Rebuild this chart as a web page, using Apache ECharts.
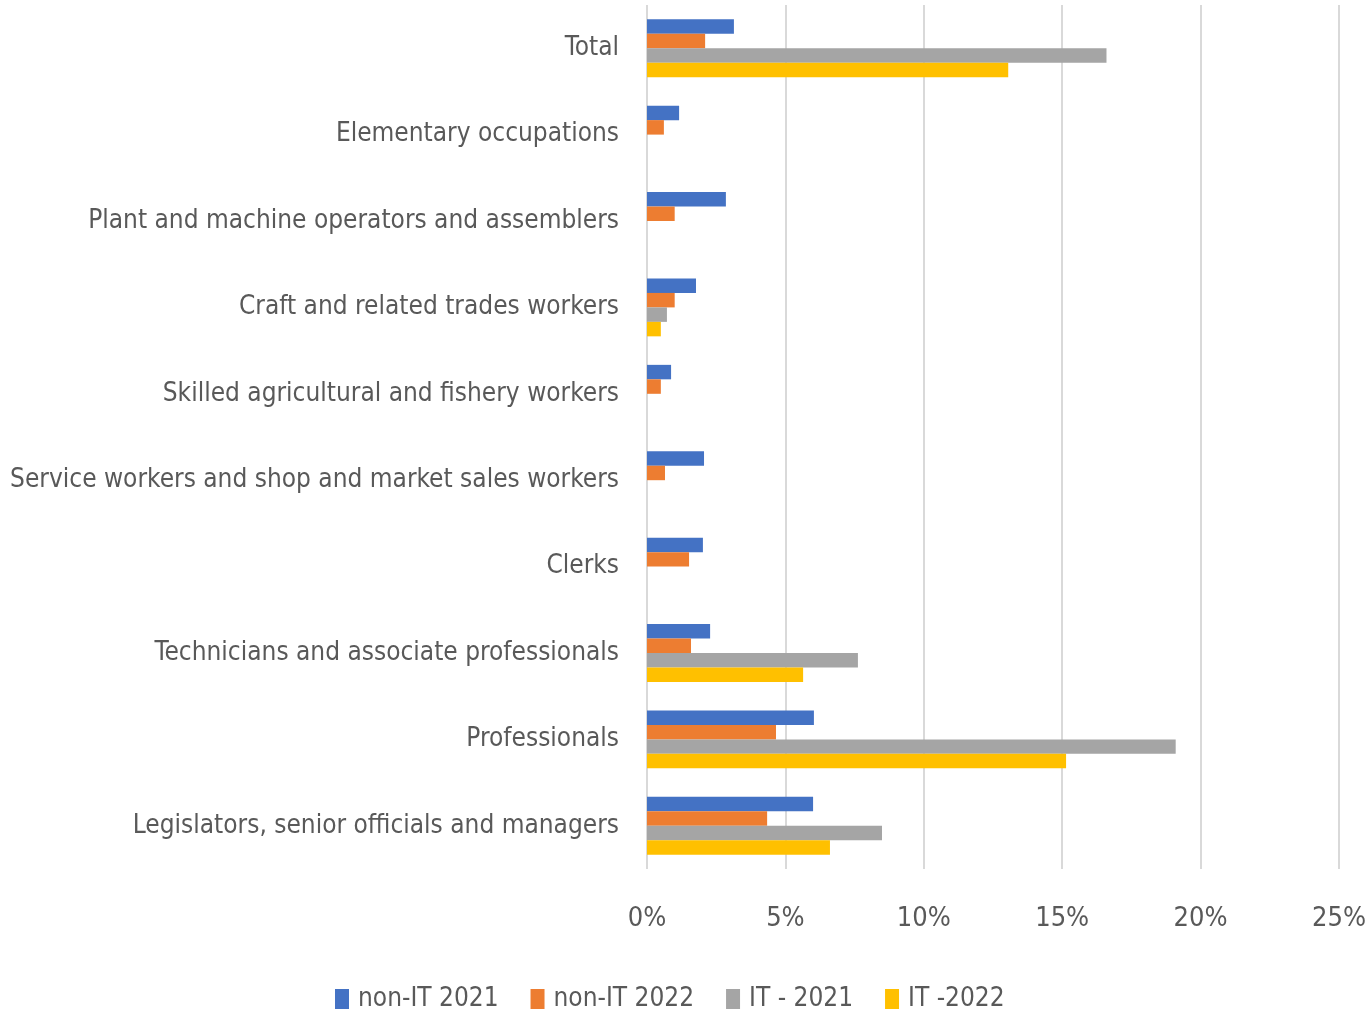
<!DOCTYPE html>
<html><head><meta charset="utf-8">
<script src="https://cdn.jsdelivr.net/npm/echarts@6/dist/echarts.min.js"></script>
<style>html,body{margin:0;padding:0;background:#fff}#c{width:1370px;height:1014px}</style>
</head><body><div id="c"></div>
<script>
const categories = ["Total","Elementary occupations","Plant and machine operators and assemblers","Craft and related trades workers","Skilled agricultural and fishery workers","Service workers and shop and market sales workers","Clerks","Technicians and associate professionals","Professionals","Legislators, senior officials and managers"];
const nonIT2021 = [3.14, 1.16, 2.85, 1.77, 0.87, 2.06, 2.02, 2.28, 6.03, 6.0];
const nonIT2022 = [2.1, 0.61, 1.0, 1.0, 0.5, 0.65, 1.52, 1.59, 4.66, 4.34];
const IT2021 = [16.6, null, null, 0.72, null, null, null, 7.62, 19.1, 8.49];
const IT2022 = [13.05, null, null, 0.5, null, null, null, 5.64, 15.14, 6.61];
const seriesNames = ["non-IT 2021","non-IT 2022","IT - 2021","IT -2022"];
const colors = ["#4472C4","#ED7D31","#A5A5A5","#FFC000"];
const font = "'Liberation Sans Narrow','DejaVu Sans Condensed','Roboto Condensed',sans-serif";
const chart = echarts.init(document.getElementById('c'));
const data = [nonIT2021, nonIT2022, IT2021, IT2022];
chart.setOption({
  animation:false,
  color: colors,
  grid:{left:647,right:31,top:5,bottom:145,containLabel:false,outerBoundsMode:'none'},
  legend:{bottom:-3,left:330,itemWidth:14,itemHeight:20,itemGap:32,icon:'rect',
    textStyle:{fontFamily:font,fontSize:26,color:'#595959',padding:[0,0,0,4]}},
  xAxis:{type:'value',min:0,max:25,interval:5,
    axisLabel:{formatter:'{value}%',fontFamily:font,fontSize:27,color:'#595959',margin:36},
    axisLine:{show:false},axisTick:{show:false},
    splitLine:{lineStyle:{color:'#D9D9D9',width:2}}},
  yAxis:{type:'category',data:categories,inverse:true,
    axisLine:{show:false},axisTick:{show:false},
    axisLabel:{fontFamily:font,fontSize:26,color:'#595959',margin:28}},
  series: data.map((d,i)=>({name:seriesNames[i],type:'bar',data:d,barGap:'0%',barCategoryGap:'33%'}))
});
</script></body></html>
